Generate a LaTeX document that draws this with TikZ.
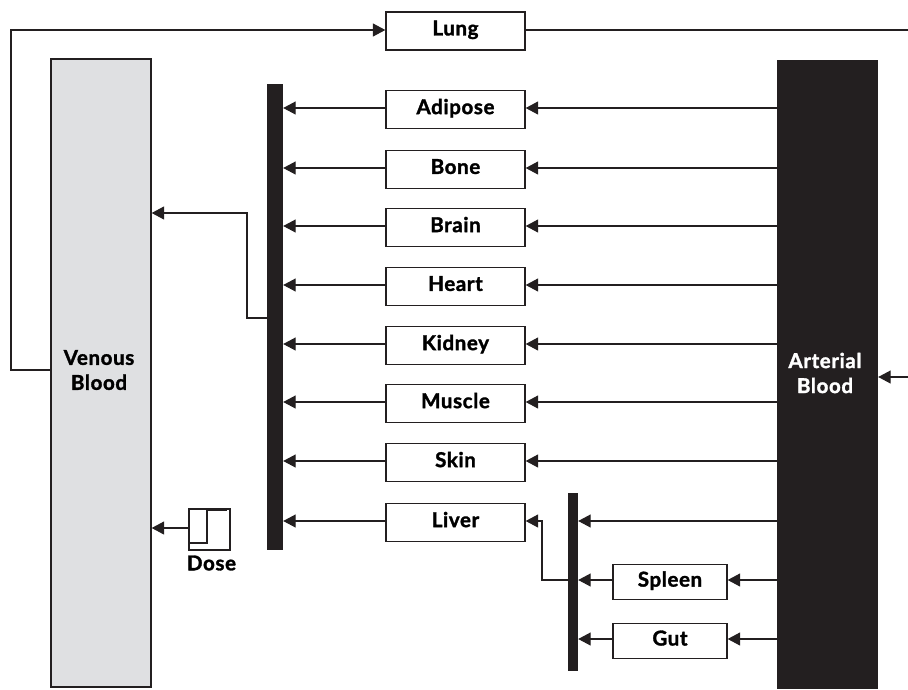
\documentclass[tikz,border=0pt]{standalone}
\usepackage{fontspec}
\setmainfont{Lato}[BoldFeatures={FakeBold=1.6,LetterSpace=3}]
\usetikzlibrary{arrows.meta}
\definecolor{ink}{HTML}{231F20}
\definecolor{veinfill}{HTML}{DFE0E2}
\newcommand{\liftlabel}[1]{\raisebox{6pt}{#1}}
\tikzset{
  organ/.style={draw=ink,line width=1.3pt,fill=white,minimum width=139pt,minimum height=38pt,inner sep=0pt,font=\fontsize{20.5}{24}\selectfont\bfseries,text=black},
  smallorgan/.style={organ,minimum width=114pt,minimum height=35.5pt},
  bar/.style={fill=ink,draw=none,inner sep=0pt},
  flow/.style={draw=ink,line width=1.2pt,-{Triangle[length=12.5pt,width=13pt]}},
  wire/.style={draw=ink,line width=1.2pt},
  bloodtext/.style={font=\fontsize{20.5}{25}\selectfont\bfseries,align=center,inner sep=0pt}
}
\begin{document}
\begin{tikzpicture}[x=1pt,y=-1pt]
\useasboundingbox (0,0) rectangle (908,689);
\node[draw=ink,line width=1.3pt,fill=veinfill,minimum width=100pt,minimum height=628pt,inner sep=0pt] (venous) at (101,373) {};
\node[bloodtext,text=black] (venouslabel) at (99,370) {Venous\\Blood};
\node[bar,minimum width=101pt,minimum height=629pt] (arterial) at (827.5,374.5) {};
\node[bloodtext,text=white] (arteriallabel) at (825,373) {Arterial\\Blood};
\node[bar,minimum width=16pt,minimum height=466pt] (barone) at (275,317) {};
\node[bar,minimum width=10pt,minimum height=178pt] (bartwo) at (573,582) {};
\node[organ] (lung) at (455.5,31) {\liftlabel{Lung}};
\node[organ] (adipose) at (455.5,109.5) {\liftlabel{Adipose}};
\node[organ] (bone) at (455.5,169.5) {\liftlabel{Bone}};
\node[organ] (brain) at (455.5,227.5) {\liftlabel{Brain}};
\node[organ] (heart) at (455.5,286.5) {\liftlabel{Heart}};
\node[organ] (kidney) at (455.5,345.5) {\liftlabel{Kidney}};
\node[organ] (muscle) at (455.5,403.5) {\liftlabel{Muscle}};
\node[organ] (skin) at (455.5,462.5) {\liftlabel{Skin}};
\node[organ] (liver) at (455.5,522.5) {\liftlabel{Liver}};
\node[smallorgan] (spleen) at (670,582) {\liftlabel{Spleen}};
\node[smallorgan] (gut) at (670,641) {\liftlabel{Gut}};
\node[draw=ink,line width=1.3pt,fill=white,minimum width=41pt,minimum height=41pt,inner sep=0pt] (dose) at (209.5,529.5) {};
\node[font=\fontsize{20.5}{24}\selectfont\bfseries,inner sep=0pt] (doselabel) at (211.5,563) {Dose};
\coordinate (lungout) at (908,30);
\coordinate (artin) at (908,377);
\coordinate (loopleftlow) at (11,370);
\coordinate (loopleftup) at (11,30);
\coordinate (hubvein) at (247,213);
\coordinate (hubbar) at (247,318);
\coordinate (liverin) at (542,521);
\coordinate (liverbar) at (542,580);
\coordinate (stepa) at (207,543);
\coordinate (stepb) at (207,510);
\coordinate (stepc) at (227,510);
\foreach \o in {adipose,bone,brain,heart,kidney,muscle,skin}{
  \draw[flow] ([yshift=1.5pt]arterial.west |- \o.east) -- ([yshift=1.5pt]\o.east);
}
\foreach \o in {adipose,bone,brain,heart,kidney,muscle,skin,liver}{
  \draw[flow] ([yshift=1.5pt]\o.west) -- ([yshift=1.5pt]barone.east |- \o.west);
}
\draw[flow] ([yshift=2pt]spleen.west) -- ([yshift=2pt]bartwo.east |- spleen.west);
\draw[flow] ([yshift=2pt]gut.west) -- ([yshift=2pt]bartwo.east |- gut.west);
\draw[flow] ([yshift=2pt]arterial.west |- spleen.east) -- ([yshift=2pt]spleen.east);
\draw[flow] ([yshift=2pt]arterial.west |- gut.east) -- ([yshift=2pt]gut.east);
\draw[flow] (arterial.west |- liverin) -- (bartwo.east |- liverin);
\draw[flow] (bartwo.west |- liverbar) -- (liverbar) -- (liverin) -- (liver.east |- liverin);
\draw[flow] (barone.west |- hubbar) -- (hubbar) -- (hubvein) -- (venous.east |- hubvein);
\draw[flow] (venous.west |- loopleftlow) -- (loopleftlow) -- (loopleftup) -- (lung.west |- loopleftup);
\draw[wire] (lung.east |- lungout) -- (lungout);
\draw[flow] (artin) -- (arterial.east |- artin);
\draw[flow] ([yshift=1.5pt]dose.west) -- ([yshift=1.5pt]venous.east |- dose.west);
\draw[wire,line width=1.1pt] (dose.west |- stepa) -- (stepa) -- (stepb) -- (stepc);
\end{tikzpicture}
\end{document}
